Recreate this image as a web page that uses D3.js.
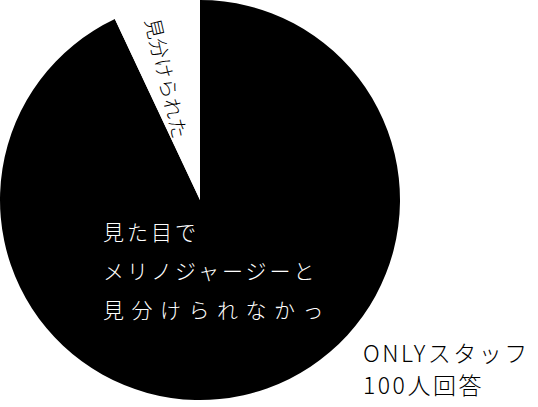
<!DOCTYPE html>
<html>
<head>
<meta charset="utf-8">
<script src="https://cdn.jsdelivr.net/npm/d3@7"></script>
<style>
  body { margin: 0; background: #fff; }
  text { font-family: "Noto Sans CJK JP", "Noto Sans", sans-serif; font-weight: 300; }
</style>
</head>
<body>
<div id="chart"></div>
<script>
// answers: could staff tell merino jersey apart by looks?
const labels = ["見分けられなかった", "見分けられた"];
const values = [93, 7];
const colours = ["#000000", "#ffffff"];

// text lines of the big label inside the black slice
const insideLines = ["見た目で", "メリノジャージーと", "見分けられなかっ"];
const noteLines = ["ONLYスタッフ", "100人回答"];

const width = 538, height = 407;
const cx = 200, cy = 200, radius = 200;

const svg = d3.select("#chart").append("svg")
    .attr("width", width)
    .attr("height", height);

const g = svg.append("g")
    .attr("transform", "translate(" + cx + "," + cy + ")");

const pie = d3.pie().sort(null).value(d => d);
const arc = d3.arc().innerRadius(0).outerRadius(radius);
const arcs = pie(values);

g.selectAll("path")
    .data(arcs)
    .enter()
    .append("path")
    .attr("d", arc)
    .attr("fill", (d, i) => colours[i]);

// small slice label, rotated to run along the slice
let small = arcs[1];
let a = small.startAngle + (small.endAngle - small.startAngle) * 0.4;
let lr = 126;
let lx = Math.sin(a) * lr, ly = -Math.cos(a) * lr;
let rot = a * 180 / Math.PI - 268;
g.append("text")
    .attr("transform", "translate(" + lx + "," + ly + ") rotate(" + rot + ")")
    .attr("text-anchor", "middle")
    .attr("dominant-baseline", "central")
    .attr("font-size", 20)
    .attr("letter-spacing", 0.5)
    .attr("fill", "#000")
    .text(labels[1]);

// big slice label
const spacing = [3, 3, 7.5];
svg.append("g").selectAll("text")
    .data(insideLines)
    .enter()
    .append("text")
    .attr("x", 103)
    .attr("y", (d, i) => 240 + i * 39)
    .attr("font-size", 21)
    .attr("letter-spacing", (d, i) => spacing[i])
    .attr("fill", "#fff")
    .text(d => d);

// note at bottom right
svg.append("g").selectAll("text")
    .data(noteLines)
    .enter()
    .append("text")
    .attr("x", 363)
    .attr("y", (d, i) => 362 + i * 32)
    .attr("font-size", 23)
    .attr("letter-spacing", 2.5)
    .attr("fill", "#000")
    .text(d => d);
</script>
</body>
</html>
